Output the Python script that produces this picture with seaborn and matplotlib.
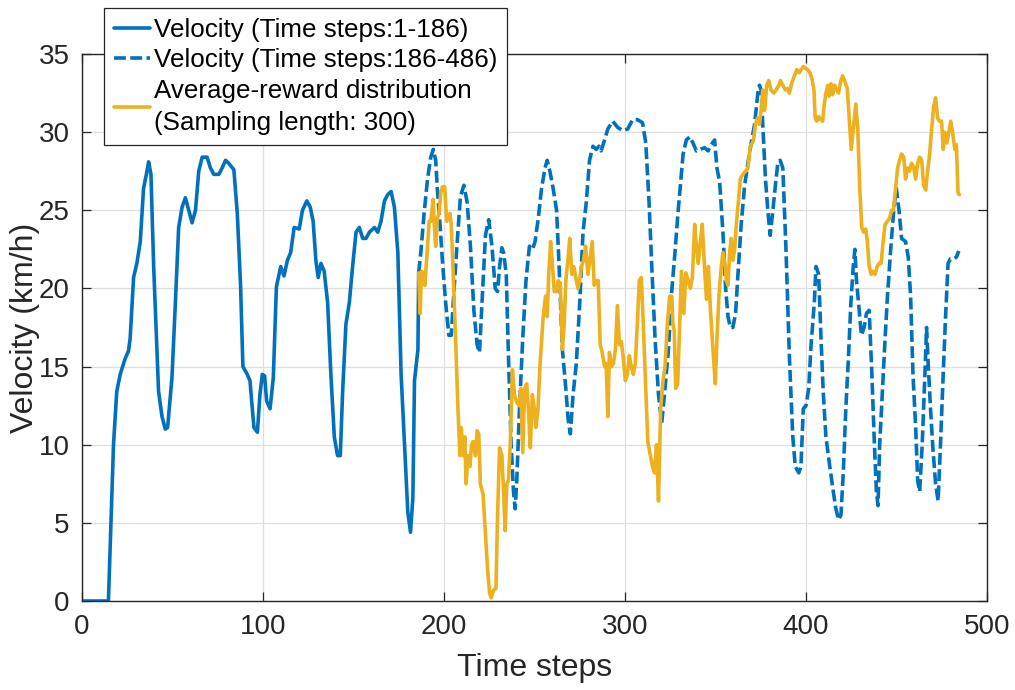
import numpy as np
import pandas as pd
import matplotlib
matplotlib.use("Agg")
import matplotlib.pyplot as plt
import seaborn as sns

# ---------------- data ----------------
t_vel1 = [1, 14.6, 17.4, 19.2, 21.1, 23.8, 25.7, 26.6, 28.5, 30.3,
          32.2, 34, 35.9, 36.8, 38.1, 39.6, 42.3, 44.2, 46, 47.3,
          49.7, 51.6, 53.4, 55.3, 57.1, 59, 60.8, 62.7, 64.5, 66.4,
          69.1, 71, 72.8, 75.6, 77.4, 79.3, 81.1, 83.9, 85.8, 87.6,
          88.9, 91.3, 92.8, 94.1, 95, 96.9, 98.3, 99.6, 100.9, 102,
          103.9, 105.7, 107.4, 109.8, 111.6, 113.5, 115.3, 117.2, 120, 121.8,
          124.2, 126.1, 127.7, 129.2, 130.5, 132, 133.8, 135.7, 137.5, 139.4,
          141.2, 142.7, 144, 145.8, 147.7, 149.5, 151.4, 153.2, 155.1, 156.9,
          158.8, 161.6, 163.4, 165.2, 167.1, 168.9, 170.8, 172.6, 174.5, 176.3,
          178.2, 180, 181.5, 182.8, 183.7, 185.6, 186]
v_vel1 = [0, 0, 10, 13.4, 14.5, 15.5, 16, 16.8, 20.7, 21.6,
          23, 26.4, 27.5, 28.1, 27.3, 21.4, 13.4, 11.8, 11, 11.1,
          14.3, 19.1, 23.9, 25.2, 25.8, 25, 24.2, 25, 27.5, 28.4,
          28.4, 27.7, 27.3, 27.3, 27.7, 28.2, 28, 27.6, 24.8, 20.2,
          15, 14.5, 14.1, 12.3, 11.1, 10.8, 13.2, 14.5, 14.4, 12.8,
          12.3, 14.3, 20.1, 21.4, 20.8, 21.8, 22.3, 23.9, 23.8, 25,
          25.6, 25.2, 24.3, 21.8, 20.7, 21.6, 21.1, 19.1, 14.5, 10.5,
          9.3, 9.3, 13.4, 17.7, 19.1, 21.4, 23.6, 23.9, 23.2, 23.2,
          23.6, 23.9, 23.6, 24.3, 25.6, 26, 26.2, 25.2, 22.3, 14.5,
          10, 5.7, 4.4, 6.6, 14.1, 16.1, 21]

t_vel2 = [186, 187.2, 189, 190.9, 192.7, 194.1, 195.4, 196.3, 197.8, 199.1,
          200.9, 202.7, 204, 205.5, 207.3, 209.1, 211, 212.8, 214.6, 216.5,
          218.3, 219.6, 221, 222.9, 224.7, 226.5, 228.3, 229.6, 230.7, 232,
          232.9, 234.4, 235.6, 237.1, 238.4, 239.3, 240.2, 241.7, 243.5, 245.3,
          247.2, 249, 250.3, 252.1, 253.9, 255.8, 257, 258.5, 260.3, 262.2,
          263.6, 265.4, 267.3, 268.6, 269.8, 271.3, 273.1, 275, 276.8, 278.6,
          280.4, 282.3, 284.1, 285.6, 286.8, 288.7, 290.5, 293.2, 296, 298.7,
          301.5, 304.2, 306.9, 309.7, 311.5, 313.3, 314.8, 316.6, 318.5, 320.3,
          322.1, 324, 325.8, 327.6, 329.4, 332.1, 333.9, 335.8, 337.6, 339.4,
          341.3, 344, 345.9, 347.7, 349.5, 350.8, 352.3, 354.1, 355.6, 356.9,
          358.2, 359.6, 361.1, 362.4, 364.2, 366.1, 367.9, 369.7, 371.6, 373.4,
          374.3, 375.2, 376.1, 377.6, 378.9, 380.2, 381.7, 383.1, 384.4, 385.7,
          387.2, 389, 390.8, 392.7, 394.1, 396, 397.2, 398.5, 400, 401.5,
          402.8, 404.6, 405.5, 407, 408.3, 409.5, 411, 412.8, 414.7, 416.5,
          418, 419.3, 420.6, 422, 423.5, 424.8, 426.1, 427, 427.9, 429.4,
          430.6, 432.1, 433.4, 434.9, 436.3, 437.8, 438.9, 439.8, 440.7, 442.2,
          443.7, 445, 446.8, 448.6, 449.9, 451.4, 452.8, 455, 456.5, 457.8,
          459.1, 460.6, 461.7, 462.8, 464.2, 465.7, 466.6, 467.5, 468.8, 470.1,
          471.6, 473, 474.3, 475.8, 477.1, 478.5, 479.8, 481.7, 483.1, 484.4]
v_vel2 = [21, 22.3, 24.8, 27, 28.4, 28.9, 28.2, 26.4, 24.1, 21.8,
          19.1, 17, 17, 19.8, 23, 25.9, 26.6, 25.5, 22.7, 18.6,
          16.4, 15.9, 19.1, 23.4, 24.4, 22.7, 20, 19.8, 21.4, 22.6,
          22.3, 20.9, 15.7, 10, 7, 5.9, 7.7, 12.3, 16.8, 20.5,
          22.7, 22.5, 23, 24.5, 26.4, 27.7, 28.2, 27.5, 26.4, 25,
          21.4, 16.1, 13.6, 11.6, 10.7, 13.2, 15.2, 19.1, 23.6, 25.5,
          28.2, 29.1, 28.9, 29.1, 28.8, 29.5, 30.2, 30.7, 30.3, 30.1,
          30.2, 30.8, 30.8, 30.6, 29.3, 25.5, 21.4, 16.8, 13.2, 11.4,
          13.6, 16.1, 19.8, 22.3, 25, 28.6, 29.5, 29.7, 29.3, 28.8,
          28.9, 29, 28.8, 29.2, 29.5, 27.7, 26.8, 23.6, 20, 18.2,
          17.5, 17.5, 18.4, 20.9, 24.1, 26.6, 28, 29.3, 30.5, 32.5,
          33, 32.7, 30.5, 27, 25, 23.4, 25, 26.6, 28, 28.2,
          27.7, 22.3, 15.7, 10.5, 8.6, 8.2, 8.6, 12.3, 12.5, 13.6,
          16.4, 19.1, 21.4, 20.9, 16.8, 13.4, 10.5, 8.9, 7.3, 5.9,
          5.2, 5.5, 8.2, 12.3, 15.7, 19.1, 21.4, 22.5, 20.5, 18.6,
          17, 17.5, 18.4, 18.6, 14.8, 10, 7, 6.1, 10, 13.4,
          16.8, 19.5, 22.5, 25.2, 26.4, 25, 23.2, 23, 22, 19.5,
          14.5, 11.1, 7.7, 7, 10, 14.5, 17.5, 15.2, 12.3, 9.8,
          7.5, 6.4, 10, 14.5, 18.2, 21.6, 21.9, 21.9, 22, 22.4]

t_reward = [186, 186.8, 187.6, 188.7, 189.4, 190.5, 191.8, 192.7, 194, 194.5,
            195.4, 196.3, 197.3, 198.2, 199.1, 200.4, 201.5, 202.2, 203.3, 204,
            205.1, 206.4, 207.7, 208.8, 209.5, 210.6, 211.5, 212.2, 213.2, 214.3,
            215.2, 216.1, 217.4, 218.3, 219.2, 220.1, 221.6, 222.9, 224.1, 225.2,
            226.1, 227.4, 228.7, 229.6, 230.7, 232, 232.9, 233.8, 234.7, 235.6,
            236.6, 237.8, 238.9, 240.2, 241.5, 242.4, 243.5, 244.6, 245.7, 246.6,
            247.7, 248.8, 249.9, 250.8, 251.9, 253, 254.8, 256.1, 257, 257.8,
            258.9, 260, 260.9, 262.2, 263.1, 264.3, 265.4, 266.4, 267.3, 268.4,
            269.5, 270.6, 271.7, 272.8, 274, 274.9, 275.9, 277.1, 278.2, 279.5,
            280.4, 281.9, 283, 284.1, 285.2, 286.3, 287.4, 288.7, 289.6, 290.5,
            291.4, 292.5, 293.6, 294.7, 295.8, 296.9, 298, 299.1, 300.2, 301.3,
            302.4, 303.5, 304.6, 305.7, 306.8, 307.9, 309, 310, 311.5, 312.6,
            313.7, 315.2, 316.3, 317.4, 318.5, 319.7, 321, 322.1, 323.4, 324.7,
            325.8, 326.5, 327.2, 328, 329.1, 331.2, 332.5, 333.6, 334.9, 336.1,
            337.2, 338.5, 339.4, 340.5, 341.6, 342.7, 343.9, 345, 346.1, 347.2,
            348.6, 349.9, 350.8, 351.9, 353.2, 354.1, 355.2, 356, 356.9, 357.8,
            358.7, 359.6, 360.6, 361.5, 362.6, 363.7, 365.1, 366.6, 367.9, 369.2,
            370.3, 371, 372.1, 373.2, 374.3, 375.2, 376.1, 377.2, 378.3, 379.4,
            380.7, 382.2, 383.5, 385, 385.9, 387.2, 388.6, 389.9, 390.8, 392.3,
            393.6, 394.9, 396.3, 397.4, 398.5, 399.6, 400.9, 402.2, 403.3, 404.4,
            405.1, 405.9, 407, 408.1, 409.2, 410.1, 411, 412.1, 412.8, 413.8,
            414.7, 415.8, 416.9, 418, 419.1, 420.2, 421.3, 422.8, 423.9, 425,
            426.1, 427.5, 428.6, 429.7, 430.8, 431.9, 433, 433.9, 434.9, 436,
            437.1, 438.2, 439.3, 440.4, 441.5, 442.6, 443.7, 445, 446.2, 447.3,
            448.3, 449.5, 450.6, 451.7, 452.8, 454, 455, 456.1, 457.2, 458.3,
            459.4, 460.6, 461.7, 462.8, 463.9, 465, 466.1, 467.2, 468.3, 469.4,
            470.5, 471.6, 472.7, 473.8, 474.9, 475.8, 476.7, 477.8, 478.9, 480,
            481.1, 482.2, 483.1, 484, 484.8]
v_reward = [21, 18.4, 21.1, 20.9, 20.2, 22, 24.3, 24.3, 25.7, 24.3,
            22.7, 24.5, 24.8, 26.1, 26.5, 26.5, 24.3, 24.5, 24.8, 24.1,
            20.9, 16.8, 12.3, 9.3, 11.1, 9.3, 10.5, 7.5, 9.3, 8.6,
            10, 10.2, 9.3, 10.9, 10.7, 7.5, 6.8, 4.3, 2, 0.5,
            0.2, 0.7, 0.8, 5.5, 9.8, 9.3, 7, 4.5, 7.5, 7.7,
            10, 14.8, 13.2, 12.7, 12.5, 13.6, 9.5, 13.6, 13.9, 12.3,
            9.8, 13.2, 12.3, 11.1, 12.3, 15, 18.2, 19.5, 18.2, 20.7,
            23, 21.4, 19.8, 19.8, 20.5, 20.2, 16.1, 17.7, 20.5, 21.8,
            23.2, 20.9, 21.4, 20.7, 20, 20.5, 21.4, 21.8, 22.7, 20.9,
            21.6, 23, 20.2, 20.5, 20.5, 16.4, 15.9, 15, 15.2, 11.8,
            15.9, 15, 15.2, 16.1, 18.9, 16.4, 16.6, 15.5, 14.1, 14.5,
            15.7, 15, 14.5, 15.2, 17.7, 20.5, 20.7, 18, 13.6, 10.2,
            9.5, 8.6, 8.2, 10, 6.4, 12.3, 14.1, 15, 17.7, 19.5,
            19.5, 17.7, 17.3, 13.6, 13.9, 21.1, 18.4, 21, 20.5, 20,
            20.7, 24.1, 22.7, 21.6, 23, 24.1, 21.4, 19.3, 21.4, 18.6,
            16.1, 13.9, 16.8, 19.5, 21.4, 22.3, 21.6, 20.5, 20.2, 22.3,
            23.2, 21.8, 22.5, 24.1, 25.5, 27, 27.3, 27.5, 27.7, 29.1,
            29.3, 29.5, 30.5, 30.9, 30.5, 31.4, 32.7, 31.4, 33, 33.3,
            32.7, 32.5, 32.7, 33, 33.3, 33, 32.7, 32.8, 32.5, 33.2,
            33.6, 34, 33.8, 34, 34.2, 34.1, 34, 33.8, 33.4, 32.7,
            30.9, 30.7, 31, 30.8, 30.7, 31.8, 32.5, 33, 32.3, 33.1,
            32.4, 33, 32.7, 32.5, 33.2, 33.6, 33.3, 32.8, 30.9, 28.9,
            30.2, 31.8, 30.2, 26.4, 23.9, 23.6, 23.8, 23, 21.4, 20.9,
            21.1, 20.9, 21.4, 21.6, 21.6, 23, 24.1, 24.3, 24.5, 25,
            25, 26.4, 27.7, 28.2, 28.6, 28.4, 27, 27.7, 27.5, 28,
            27.8, 27, 28, 28.4, 28.2, 26.6, 26.3, 27.5, 28.6, 30.2,
            31.6, 32.2, 30.9, 30.7, 30.7, 28.9, 30, 29.3, 30, 30.7,
            29.9, 28.9, 29.2, 26.1, 26]

labels = ["Velocity (Time steps:1-186)",
          "Velocity (Time steps:186-486)",
          "Average-reward distribution\n(Sampling length: 300)"]
x_ticks = [0, 100, 200, 300, 400, 500]
y_ticks = [0, 5, 10, 15, 20, 25, 30, 35]

# ---------------- style ----------------
sns.set_theme(style="whitegrid")
plt.rcParams["font.family"] = ["Liberation Sans", "DejaVu Sans"]
dark = "#262626"
blue = "#0072BD"
orange = "#EDB120"

fig = plt.figure(figsize=(10.15, 6.9), dpi=100)
ax = fig.add_axes([82 / 1015, 1 - 601 / 690, (987 - 82) / 1015, (601 - 54) / 690])

df1 = pd.DataFrame({"t": t_vel1, "v": v_vel1})
df2 = pd.DataFrame({"t": t_vel2, "v": v_vel2})
df3 = pd.DataFrame({"t": t_reward, "v": v_reward})

lw = 2.6
sns.lineplot(data=df1, x="t", y="v", ax=ax, color=blue, linewidth=lw,
             estimator=None, sort=False, label=labels[0])
sns.lineplot(data=df2, x="t", y="v", ax=ax, color=blue, linewidth=lw,
             estimator=None, sort=False, label=labels[1],
             linestyle=(0, (3.3, 1.2)))
sns.lineplot(data=df3, x="t", y="v", ax=ax, color=orange, linewidth=lw,
             estimator=None, sort=False, label=labels[2])

ax.set_xlim(0, 500)
ax.set_ylim(0, 35)
ax.set_xticks(x_ticks)
ax.set_yticks(y_ticks)
ax.set_facecolor("white")
ax.grid(True, color="#dedede", linewidth=0.9)
for s in ax.spines.values():
    s.set_visible(True)
    s.set_color(dark)
    s.set_linewidth(1.0)
ax.tick_params(axis="both", which="both", direction="in", length=6.5, width=0.9,
               color=dark, labelcolor=dark, labelsize=20, pad=9,
               top=True, right=True, bottom=True, left=True)

ax.set_xlabel("Time steps", fontsize=23, color=dark)
ax.set_ylabel("Velocity (km/h)", fontsize=23, color=dark)
ax.xaxis.set_label_coords(0.5, -0.095)
ax.yaxis.set_label_coords(-0.046, 0.5)

leg = ax.legend(loc="upper left", bbox_to_anchor=(104 / 1015, 1 - 8 / 690),
                bbox_transform=fig.transFigure, borderaxespad=0,
                fontsize=18.7, frameon=True, fancybox=False, framealpha=1,
                edgecolor=dark, handlelength=1.4, handletextpad=0.15,
                borderpad=0.38, labelspacing=0.25)
leg.get_frame().set_linewidth(0.9)
for txt in leg.get_texts():
    txt.set_color("black")
    txt.set_linespacing(1.42)
leg.set_zorder(10)

fig.savefig("out.png", dpi=100, facecolor="white")
